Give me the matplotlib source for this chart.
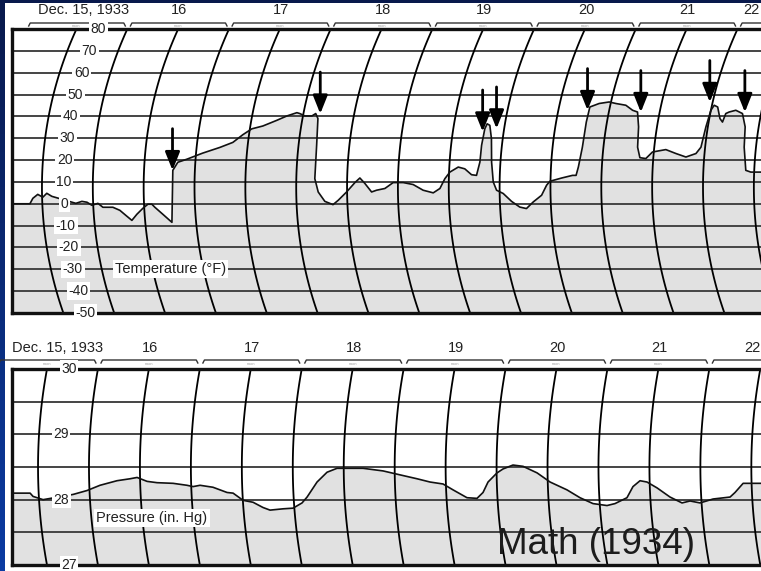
import numpy as np
import matplotlib.pyplot as plt
from matplotlib import transforms
from matplotlib.patches import Rectangle
from matplotlib.colors import LinearSegmentedColormap

plt.rcParams['font.family'] = ['Liberation Sans', 'DejaVu Sans']

# thermograph trace: chart days after 15 Dec 1933 00:00, deg F
temp_days = [0.18, 0.378, 0.409, 0.458, 0.507, 0.547, 0.596, 0.830, 0.890, 0.940,
             0.987, 1.047, 1.094, 1.192, 1.259, 1.324, 1.370, 1.424, 1.486, 1.538,
             1.577, 1.605, 1.679, 1.762, 1.783, 1.828, 1.915, 1.990, 2.066, 2.229,
             2.351, 2.439, 2.519, 2.623, 2.751, 2.842, 2.934, 2.964, 3.019, 3.088,
             3.121, 3.152, 3.178, 3.182, 3.216, 3.279, 3.358, 3.411, 3.495, 3.577,
             3.625, 3.675, 3.741, 3.790, 3.872, 3.953, 4.052, 4.150, 4.248, 4.347,
             4.413, 4.461, 4.508, 4.588, 4.653, 4.722, 4.771, 4.798, 4.800, 4.810,
             4.825, 4.854, 4.889, 4.913, 4.937, 4.970, 5.035, 5.115, 5.193, 5.258,
             5.327, 5.412, 5.462, 5.494, 5.610, 5.715, 5.750, 5.769, 5.793, 5.797,
             5.803, 5.887, 5.982, 6.051, 6.153, 6.230, 6.282, 6.319, 6.336, 6.368,
             6.427, 6.487, 6.616, 6.719, 6.820, 6.916, 6.959, 6.981, 7.000, 7.022,
             7.060, 7.105, 7.136, 7.153, 7.183, 7.245, 7.317, 7.367, 7.384, 7.417,
             7.467, 7.600]
temp_f = [0.0, 0.0, 2.5, 4.3, 3.0, 4.8, 3.4, 0.2, 1.1, 0.7,
          -0.7, 0.2, -1.6, -1.6, -3.0, -5.7, -7.6, -4.8, -2.1, -0.2,
          -0.2, -1.6, -4.8, -8.5, 15.3, 19.0, 20.4, 21.8, 23.2, 25.8,
          28.1, 31.6, 34.3, 35.6, 38.2, 40.2, 41.7, 41.3, 40.2, 40.2,
          41.3, 39.0, 26.8, 11.5, 5.4, 1.1, -0.4, 1.6, 5.4, 9.7,
          11.8, 9.3, 5.4, 6.2, 7.0, 9.7, 9.7, 8.8, 6.2, 5.0,
          7.0, 11.5, 14.5, 16.8, 16.0, 13.3, 13.0, 19.1, 26.8, 34.3,
          36.6, 35.9, 29.8, 19.1, 10.0, 6.2, 4.7, 1.1, -1.5, -2.2,
          0.8, 3.9, 8.5, 10.3, 11.8, 13.0, 13.0, 16.8, 25.9, 37.4,
          44.3, 45.9, 46.6, 45.9, 45.1, 42.8, 42.0, 35.2, 25.9, 21.1,
          20.7, 23.7, 24.8, 23.0, 21.4, 23.0, 25.9, 35.2, 42.8, 45.1,
          44.3, 39.0, 37.4, 41.3, 42.0, 42.8, 41.3, 35.2, 25.9, 15.3,
          14.5, 14.5]

# barograph trace: chart days, inches of mercury
press_days = [0.200, 0.416, 0.443, 0.540, 0.837, 0.976, 1.105, 1.273, 1.402, 1.471,
              1.568, 1.666, 1.823, 1.959, 2.018, 2.087, 2.213, 2.349, 2.408, 2.502,
              2.599, 2.693, 2.760, 2.889, 2.987, 3.079, 3.132, 3.236, 3.336, 3.434,
              3.689, 3.886, 4.051, 4.218, 4.345, 4.472, 4.568, 4.701, 4.799, 4.861,
              4.914, 5.004, 5.063, 5.161, 5.260, 5.397, 5.523, 5.686, 5.810, 5.934,
              6.070, 6.150, 6.271, 6.335, 6.406, 6.474, 6.571, 6.694, 6.808, 6.888,
              6.985, 7.115, 7.283, 7.334, 7.417, 7.600]
press_inhg = [28.10, 28.10, 28.05, 28.00, 28.08, 28.14, 28.22, 28.29, 28.32, 28.34,
              28.28, 28.26, 28.25, 28.22, 28.20, 28.22, 28.19, 28.11, 28.10, 27.99,
              27.96, 27.88, 27.84, 27.86, 27.87, 27.95, 28.04, 28.27, 28.42, 28.48,
              28.48, 28.44, 28.38, 28.32, 28.27, 28.24, 28.15, 28.03, 28.02, 28.11,
              28.27, 28.41, 28.47, 28.53, 28.51, 28.41, 28.27, 28.15, 28.03, 27.94,
              27.91, 27.94, 28.03, 28.20, 28.29, 28.27, 28.18, 28.04, 27.95, 27.98,
              27.95, 28.01, 28.04, 28.11, 28.25, 28.25]

arrow_days = [1.780, 3.166, 4.793, 4.925, 5.787, 6.315, 6.972, 7.338]
arrow_f = [15.3, 41.2, 33.0, 34.4, 42.8, 41.9, 46.5, 41.9]

day_labels = ['Dec. 15, 1933', '16', '17', '18', '19', '20', '21', '22']
temp_ticks = [80, 70, 60, 50, 40, 30, 20, 10, 0, -10, -20, -30, -40, -50]
press_ticks = [30, 29, 28, 27]
press_grid = [27.5, 28, 28.5, 29, 29.5]

W, H = 761, 571
# pen-arc geometry of each drum chart (pixels per day, pixels per unit, arc radius, arc centre)
TOP = dict(px_day=101.7, px_unit=2.185, radius=380.0, centre=7.55, ref=80.0)
BOT = dict(px_day=101.9, px_unit=65.33, radius=540.0, centre=28.5, ref=30.0)


def bend(t, v, px_day, px_unit, radius, centre, ref):
    dy = (np.asarray(v, float) - centre) * px_unit
    dy0 = (ref - centre) * px_unit
    return np.asarray(t, float) - (np.sqrt(radius**2 - dy**2) - np.sqrt(radius**2 - dy0**2)) / px_day


def draw_panel(ax, g, days, vals, lo, hi, grid, ticks, xlim, hpx, hdr):
    ax.set_xlim(*xlim)
    ax.set_ylim(lo, hi)
    ax.set_xticks([])
    ax.set_yticks([])
    ax.spines['right'].set_visible(False)
    for s in ['top', 'left', 'bottom']:
        ax.spines[s].set_linewidth(2.4)
        ax.spines[s].set_color('#111111')

    x = bend(days, vals, **g)
    ax.fill(np.r_[x, x[-1], x[0]], np.r_[vals, lo, lo], color='#e1e1e1', lw=0, zorder=1)
    for y in grid:
        ax.axhline(y, color='#444444', lw=1.4, zorder=2)
    vv = np.linspace(lo, hi, 80)
    for k in range(1, 16):
        ax.plot(bend(0.5 * k, vv, **g), vv, color='black', lw=1.3, zorder=2)
    ax.plot(x, vals, color='#111111', lw=1.2, zorder=3)

    for v in ticks:
        ax.text(bend(0.716, v, **g), v, str(v), ha='center', va='center', fontsize=10,
                color='#222222', zorder=6,
                bbox=dict(facecolor='white', edgecolor='none', pad=1.2))

    # day header with brackets
    trans = transforms.blended_transform_factory(ax.transData, ax.transAxes)
    y_lab, y_br, y_noon, first_x, last_x = hdr
    for d, lab in enumerate(day_labels):
        if d == 0:
            ax.text(first_x, 1 + y_lab / hpx, lab, transform=trans, ha='left', va='center',
                    fontsize=10.5, color='#222222')
        elif d == len(day_labels) - 1:
            ax.text(last_x, 1 + y_lab / hpx, lab, transform=trans, ha='right', va='center',
                    fontsize=10.5, color='#222222')
        else:
            ax.text(d + 0.51, 1 + y_lab / hpx, lab, transform=trans, ha='center', va='center',
                    fontsize=10.5, color='#222222')
        yb = 1 + y_br / hpx
        yt = yb - 3.0 / hpx
        ax.plot([d + 0.03, d + 0.045, d + 0.965, d + 0.98], [yt, yb, yb, yt], transform=trans,
                color='#333333', lw=1.0, clip_on=False)
        if d + 0.55 < xlim[1]:
            ax.text(d + 0.5, 1 + y_noon / hpx, 'noon', transform=trans, ha='center',
                    va='center', fontsize=2.8, color='#9a9a9a')


fig = plt.figure(figsize=(W / 100, H / 100), dpi=100, facecolor='#0a2a78')
# slide background: navy gradient behind a white sheet
bg = fig.add_axes([0, 0, 1, 1], zorder=-10)
bg.imshow(np.linspace(0, 1, 64).reshape(-1, 1), aspect='auto', extent=(0, 1, 0, 1),
          cmap=LinearSegmentedColormap.from_list('slide', ['#08194c', '#0b3ba2']))
bg.set_axis_off()
fig.add_artist(Rectangle((5 / W, 0), 1, 1 - 3 / H, transform=fig.transFigure,
                         facecolor='white', edgecolor='none', zorder=-1))

# temperature panel: box from x=12 to the right edge, y=29..313 px
ax1 = fig.add_axes([12 / W, 1 - 313 / H, 1 - 12 / W, 284 / H])
draw_panel(ax1, TOP, temp_days, temp_f, -50, 80, temp_ticks[1:-1], temp_ticks,
           ((12 - 25.65) / 101.7, (W - 25.65) / 101.7), 284.0,
           (19.0, 6.0, 3.0, 0.12, (760 - 25.65) / 101.7))
ax1.text(bend(1.674, -30, **TOP), -30, 'Temperature (°F)', ha='center', va='center',
         fontsize=10.5, color='#222222', zorder=6,
         bbox=dict(facecolor='white', edgecolor='none', pad=1.5))
for t, v in zip(arrow_days, arrow_f):
    ax1.annotate('', xy=(bend(t, v, **TOP), v), xytext=(0, 30), textcoords='offset points',
                 zorder=5,
                 arrowprops=dict(arrowstyle='-|>,head_length=0.55,head_width=0.22',
                                 mutation_scale=20, lw=2.0, color='black',
                                 shrinkA=0, shrinkB=0))

# pressure panel: y=369..565 px
ax2 = fig.add_axes([12 / W, 1 - 565 / H, 1 - 12 / W, 196 / H])
draw_panel(ax2, BOT, press_days, press_inhg, 27, 30, press_grid, press_ticks,
           ((12 + 3.95) / 101.9, (W + 3.95) / 101.9), 196.0,
           (21.0, 9.0, 5.0, (12 + 3.95) / 101.9, (760 + 3.95) / 101.9))
ax2.text(bend(1.595, 27.72, **BOT), 27.72, 'Pressure (in. Hg)', ha='center', va='center',
         fontsize=10.5, color='#222222', zorder=6,
         bbox=dict(facecolor='white', edgecolor='none', pad=1.5))

fig.text(596 / W, 1 - 545 / H, 'Math (1934)', ha='center', va='center', fontsize=26.5,
         color='#1c1c1c')

fig.savefig('out.png', dpi=100, facecolor=fig.get_facecolor())
